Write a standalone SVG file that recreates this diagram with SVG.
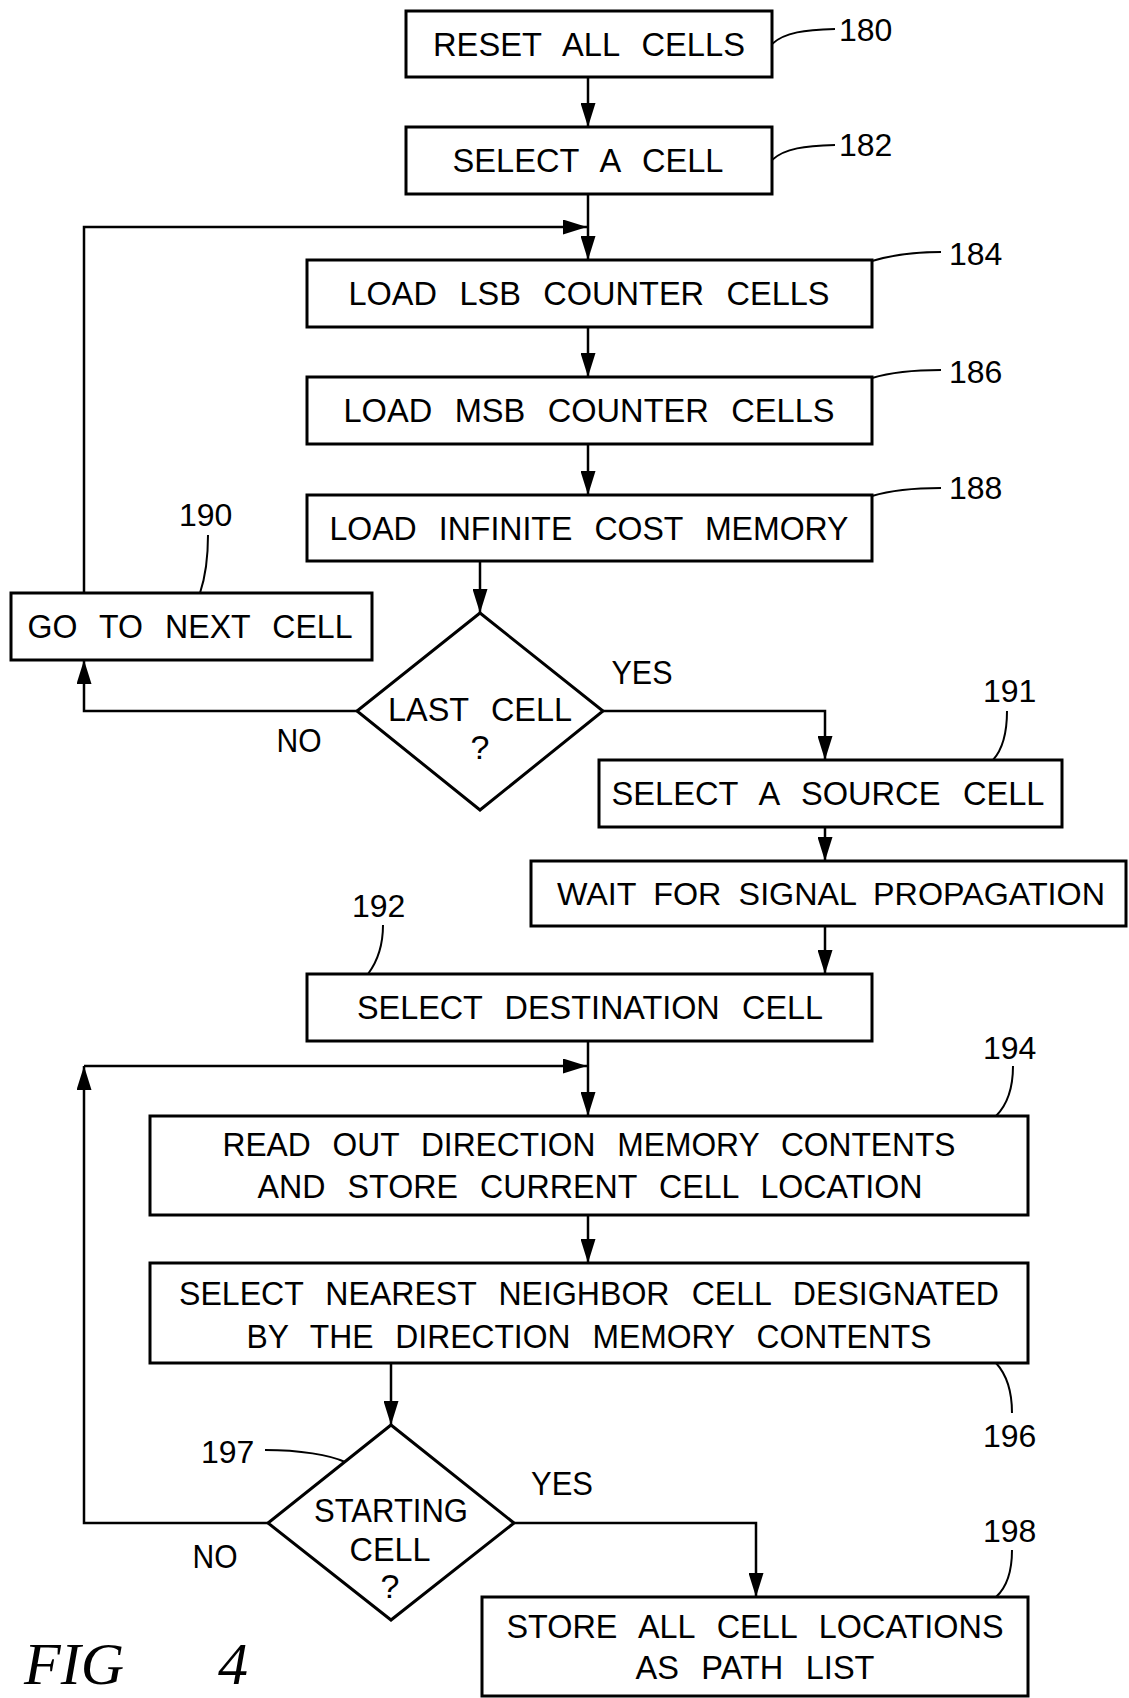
<svg xmlns="http://www.w3.org/2000/svg" width="1129" height="1698" viewBox="0 0 1129 1698">
<style>
.box{fill:#fff;stroke:#000;stroke-width:3}
.ln{fill:none;stroke:#000;stroke-width:2.5}
.ld{fill:none;stroke:#000;stroke-width:2}
.t{font-family:"Liberation Sans",Arial,sans-serif;font-size:34px;fill:#000;text-anchor:middle;word-spacing:14px}
.n{font-family:"Liberation Sans",Arial,sans-serif;font-size:32px;fill:#000}
.fig{font-family:"Liberation Serif","Times New Roman",serif;font-style:italic;font-size:60px;fill:#000}
</style>
<defs>
<marker id="ah" viewBox="0 0 24 15" refX="24" refY="7.5" markerWidth="24" markerHeight="15" markerUnits="userSpaceOnUse" orient="auto">
<path d="M0,0 L24,7.5 L0,15 Z" fill="#000"/>
</marker>
</defs>
<rect width="1129" height="1698" fill="#fff"/>
<g id="connectors">
<path class="ln" d="M588,77 V127" marker-end="url(#ah)"/>
<path class="ln" d="M588,194 V260" marker-end="url(#ah)"/>
<path class="ln" d="M84,593 V227 H587" marker-end="url(#ah)"/>
<path class="ln" d="M588,327 V377" marker-end="url(#ah)"/>
<path class="ln" d="M588,444 V495" marker-end="url(#ah)"/>
<path class="ln" d="M480,561 V613" marker-end="url(#ah)"/>
<path class="ln" d="M357,711 H84 V660" marker-end="url(#ah)"/>
<path class="ln" d="M603,711 H825 V760" marker-end="url(#ah)"/>
<path class="ln" d="M825,827 V861" marker-end="url(#ah)"/>
<path class="ln" d="M825,926 V974" marker-end="url(#ah)"/>
<path class="ln" d="M588,1041 V1116" marker-end="url(#ah)"/>
<path class="ln" d="M268,1523 H84 V1066" marker-end="url(#ah)"/>
<path class="ln" d="M84,1066 H587" marker-end="url(#ah)"/>
<path class="ln" d="M588,1215 V1263" marker-end="url(#ah)"/>
<path class="ln" d="M391,1363 V1425" marker-end="url(#ah)"/>
<path class="ln" d="M514,1523 H756 V1597" marker-end="url(#ah)"/>
<text class="t" x="642" y="684" textLength="61" lengthAdjust="spacingAndGlyphs">YES</text>
<text class="t" x="299" y="752" textLength="45" lengthAdjust="spacingAndGlyphs">NO</text>
<text class="t" x="562" y="1495" textLength="62" lengthAdjust="spacingAndGlyphs">YES</text>
<text class="t" x="215" y="1568" textLength="45" lengthAdjust="spacingAndGlyphs">NO</text>
</g>
<g id="n180">
<rect class="box" x="406" y="11" width="366" height="66"/>
<text class="t" x="589" y="56" textLength="312" lengthAdjust="spacingAndGlyphs">RESET ALL CELLS</text>
<path class="ld" d="M772,44 C785,32 805,30 835,29"/>
<text class="n" x="839" y="41">180</text>
</g>
<g id="n182">
<rect class="box" x="406" y="127" width="366" height="67"/>
<text class="t" x="588" y="172" textLength="271" lengthAdjust="spacingAndGlyphs">SELECT A CELL</text>
<path class="ld" d="M772,160 C785,148 805,146 835,145"/>
<text class="n" x="839" y="156">182</text>
</g>
<g id="n184">
<rect class="box" x="307" y="260" width="565" height="67"/>
<text class="t" x="589" y="305" textLength="481" lengthAdjust="spacingAndGlyphs">LOAD LSB COUNTER CELLS</text>
<path class="ld" d="M872,261 C892,255 912,252 941,252"/>
<text class="n" x="949" y="265">184</text>
</g>
<g id="n186">
<rect class="box" x="307" y="377" width="565" height="67"/>
<text class="t" x="589" y="422" textLength="491" lengthAdjust="spacingAndGlyphs">LOAD MSB COUNTER CELLS</text>
<path class="ld" d="M872,378 C892,372 912,370 941,370"/>
<text class="n" x="949" y="383">186</text>
</g>
<g id="n188">
<rect class="box" x="307" y="495" width="565" height="66"/>
<text class="t" x="589" y="540" textLength="519" lengthAdjust="spacingAndGlyphs">LOAD INFINITE COST MEMORY</text>
<path class="ld" d="M872,496 C892,490 912,488 941,488"/>
<text class="n" x="949" y="499">188</text>
</g>
<g id="n190">
<rect class="box" x="11" y="593" width="361" height="67"/>
<text class="t" x="190" y="638" textLength="325" lengthAdjust="spacingAndGlyphs">GO TO NEXT CELL</text>
<path class="ld" d="M208,535 C208,560 205,578 200,593"/>
<text class="n" x="179" y="526">190</text>
</g>
<g id="d_last">
<polygon class="box" points="480,613 603,711 480,810 357,711"/>
<text class="t" x="480" y="721" textLength="184" lengthAdjust="spacingAndGlyphs">LAST CELL</text>
<text class="t" x="480" y="759">?</text>
</g>
<g id="n191">
<rect class="box" x="599" y="760" width="463" height="67"/>
<text class="t" x="828" y="805" textLength="433" lengthAdjust="spacingAndGlyphs">SELECT A SOURCE CELL</text>
<path class="ld" d="M1007,711 C1007,735 1002,750 993,760"/>
<text class="n" x="983" y="702">191</text>
</g>
<g id="n_wait">
<rect class="box" x="531" y="861" width="595" height="65"/>
<text class="t" x="831" y="905" style="font-size:31px;word-spacing:8px" textLength="548" lengthAdjust="spacingAndGlyphs">WAIT FOR SIGNAL PROPAGATION</text>
</g>
<g id="n192">
<rect class="box" x="307" y="974" width="565" height="67"/>
<text class="t" x="590" y="1019" textLength="466" lengthAdjust="spacingAndGlyphs">SELECT DESTINATION CELL</text>
<path class="ld" d="M383,925 C383,945 377,962 368,974"/>
<text class="n" x="352" y="917">192</text>
</g>
<g id="n194">
<rect class="box" x="150" y="1116" width="878" height="99"/>
<text class="t" x="589" y="1156" textLength="733" lengthAdjust="spacingAndGlyphs">READ OUT DIRECTION MEMORY CONTENTS</text>
<text class="t" x="590" y="1198" textLength="665" lengthAdjust="spacingAndGlyphs">AND STORE CURRENT CELL LOCATION</text>
<path class="ld" d="M1013,1066 C1013,1090 1007,1105 996,1116"/>
<text class="n" x="983" y="1059">194</text>
</g>
<g id="n196">
<rect class="box" x="150" y="1263" width="878" height="100"/>
<text class="t" x="589" y="1305" textLength="820" lengthAdjust="spacingAndGlyphs">SELECT NEAREST NEIGHBOR CELL DESIGNATED</text>
<text class="t" x="589" y="1348" textLength="685" lengthAdjust="spacingAndGlyphs">BY THE DIRECTION MEMORY CONTENTS</text>
<path class="ld" d="M996,1363 C1007,1375 1012,1390 1012,1413"/>
<text class="n" x="983" y="1447">196</text>
</g>
<g id="d_start">
<polygon class="box" points="391,1425 514,1523 391,1620 268,1523"/>
<text class="t" x="391" y="1522" textLength="154" lengthAdjust="spacingAndGlyphs">STARTING</text>
<text class="t" x="390" y="1561" textLength="81" lengthAdjust="spacingAndGlyphs">CELL</text>
<text class="t" x="390" y="1598">?</text>
<path class="ld" d="M265,1450 C300,1450 330,1455 345,1462"/>
<text class="n" x="201" y="1463">197</text>
</g>
<g id="n198">
<rect class="box" x="482" y="1597" width="546" height="99"/>
<text class="t" x="755" y="1638" textLength="497" lengthAdjust="spacingAndGlyphs">STORE ALL CELL LOCATIONS</text>
<text class="t" x="755" y="1679" textLength="239" lengthAdjust="spacingAndGlyphs">AS PATH LIST</text>
<path class="ld" d="M1012,1550 C1012,1572 1007,1587 996,1597"/>
<text class="n" x="983" y="1542">198</text>
</g>
<g id="caption">
<text class="fig" x="24" y="1684">FIG<tspan x="218">4</tspan></text>
</g>
</svg>
